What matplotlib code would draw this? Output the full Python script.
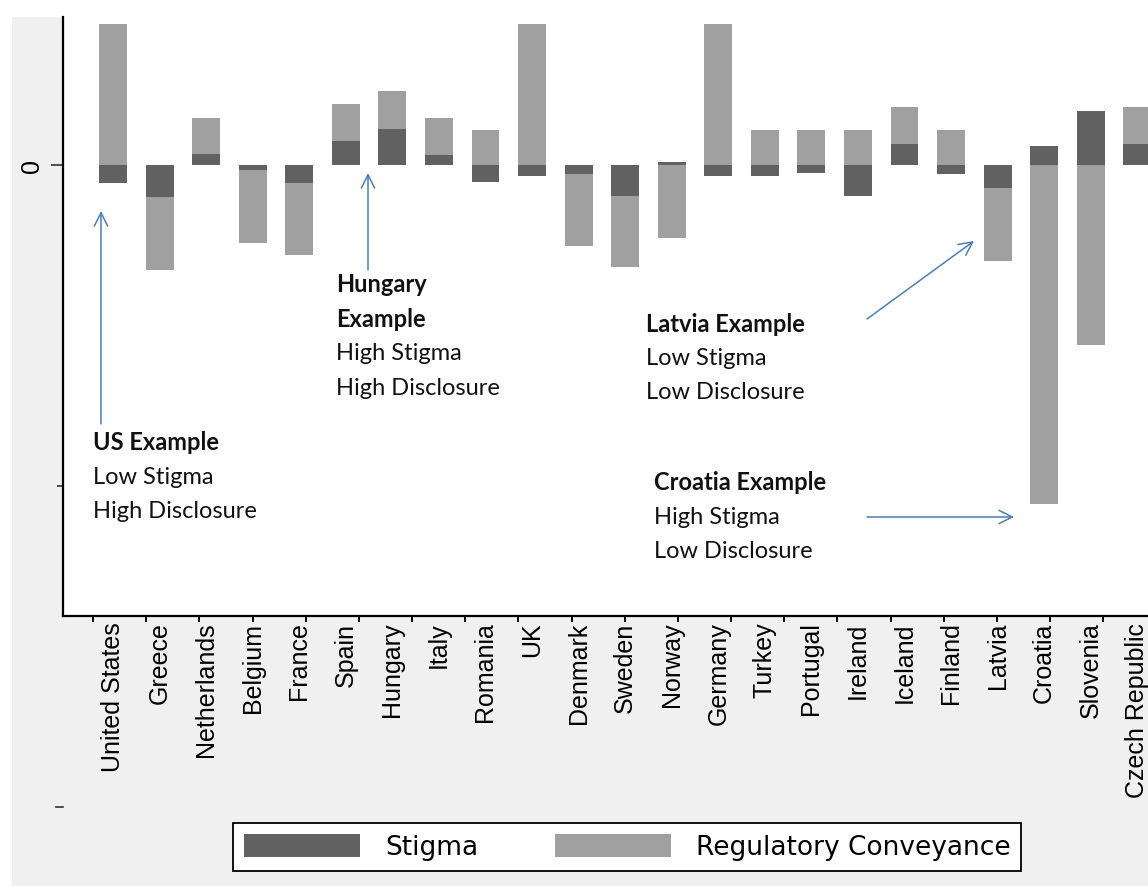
import numpy as np
import matplotlib
matplotlib.use("Agg")
import matplotlib.pyplot as plt
from matplotlib.patches import Rectangle

W, H = 1148, 887

countries = ["United States", "Greece", "Netherlands", "Belgium", "France", "Spain",
             "Hungary", "Italy", "Romania", "UK", "Denmark", "Sweden", "Norway",
             "Germany", "Turkey", "Portugal", "Ireland", "Iceland", "Finland",
             "Latvia", "Croatia", "Slovenia", "Czech Republic"]
stigma = [-0.056, -0.100, 0.034, -0.015, -0.056, 0.075, 0.112, 0.031, -0.053, -0.034,
          -0.028, -0.097, 0.009, -0.034, -0.034, -0.025, -0.097, 0.065, -0.028,
          -0.072, 0.059, 0.168, 0.065]
regulatory = [0.44, -0.227, 0.112, -0.227, -0.224, 0.115, 0.118, 0.115, 0.109, 0.44,
              -0.224, -0.221, -0.227, 0.44, 0.109, 0.109, 0.109, 0.115, 0.109,
              -0.227, -1.056, -0.561, 0.115]

DARK = "#616161"
LIGHT = "#a0a0a0"
BLUE = "#4a7ebb"


def px(x, y):
    # pixel position (from top-left) -> figure fraction
    return x / W, 1 - y / H


fig = plt.figure(figsize=(W / 100, H / 100), dpi=100)
fig.patch.set_facecolor("white")
fig.patches.append(Rectangle((12 / W, 0), 1, 1 - 18 / H, transform=fig.transFigure,
                             facecolor="#f0f0f0", edgecolor="none", zorder=-5))

ax = fig.add_axes([63 / W, (H - 617) / H, (W - 63) / W, (617 - 18) / H])
ax.set_facecolor("white")

x = np.arange(len(countries))
pos = np.zeros(len(x))
neg = np.zeros(len(x))
for vals, color, label in [(stigma, DARK, "Stigma"), (regulatory, LIGHT, "Regulatory Conveyance")]:
    v = np.array(vals)
    bottom = np.where(v >= 0, pos, neg)
    ax.bar(x, v, width=0.6, bottom=bottom, color=color, label=label, linewidth=0)
    pos += np.clip(v, 0, None)
    neg += np.clip(v, None, 0)

ax.set_xlim(-1.074, 22.23)
ax.set_ylim(-1.405, 0.461)

for s in ["top", "right"]:
    ax.spines[s].set_visible(False)
for s in ["left", "bottom"]:
    ax.spines[s].set_linewidth(1.6)
    ax.spines[s].set_color("black")

# x labels on bar centres, tick marks on their own spacing
ax.set_xticks(x)
ax.set_xticklabels(countries, rotation=90, fontsize=18, family="Liberation Sans")
ax.tick_params(axis="x", which="major", length=0, pad=4)
ax.set_xticks(np.linspace(-0.43, 21.27, 20), minor=True)
ax.tick_params(axis="x", which="minor", direction="out", length=4.5, width=1.4, color="black")

ax.set_yticks([0])
ax.set_yticklabels(["0"], rotation=90, fontsize=18, family="Liberation Sans", va="center")
ax.tick_params(axis="y", which="major", direction="out", length=9, width=1.2, pad=5, color="#333333")
ax.set_yticks([-1], minor=True)
ax.tick_params(axis="y", which="minor", direction="out", length=4, width=1.2, color="#333333")
ax.plot([-7 / 1085, 0], [-2, -2], transform=ax.get_yaxis_transform(), clip_on=False,
        color="#333333", lw=1.2)

leg = ax.legend(loc="center", bbox_to_anchor=px(627, 848), bbox_transform=fig.transFigure,
                ncol=2, frameon=True, fancybox=False, framealpha=1, edgecolor="black",
                prop={"family": "DejaVu Sans", "size": 19}, handlelength=4.4,
                handleheight=1.0, handletextpad=0.95, columnspacing=2.9, borderpad=0.4,
                borderaxespad=0)
leg.get_frame().set_linewidth(1.3)

# annotations
notes = [
    (93, 443, ["US Example", "Low Stigma", "High Disclosure"]),
    (336, 285, ["Hungary", "Example", "High Stigma", "High Disclosure"]),
    (646, 324, ["Latvia Example", "Low Stigma", "Low Disclosure"]),
    (654, 483, ["Croatia Example", "High Stigma", "Low Disclosure"]),
]
for nx, ny, lines in notes:
    n_bold = 2 if lines[0] == "Hungary" else 1
    for i, line in enumerate(lines):
        fx, fy = px(nx, ny + 34.5 * i)
        fig.text(fx, fy, line, ha="left", va="center", fontsize=17, family="Lato",
                 fontweight="bold" if i < n_bold else "normal", color="#111111")

arrows = [((101, 425), (101, 212)), ((368, 271), (368, 174)),
          ((867, 320), (974, 242)), ((867, 518), (1014, 518))]
for (x0, y0), (x1, y1) in arrows:
    ax.annotate("", xy=(x1, H - y1), xytext=(x0, H - y0), xycoords="figure pixels",
                textcoords="figure pixels",
                arrowprops=dict(arrowstyle="->", color=BLUE, lw=1.1, mutation_scale=24,
                                shrinkA=0, shrinkB=0))

fig.savefig("out.png", dpi=100, facecolor=fig.get_facecolor())
